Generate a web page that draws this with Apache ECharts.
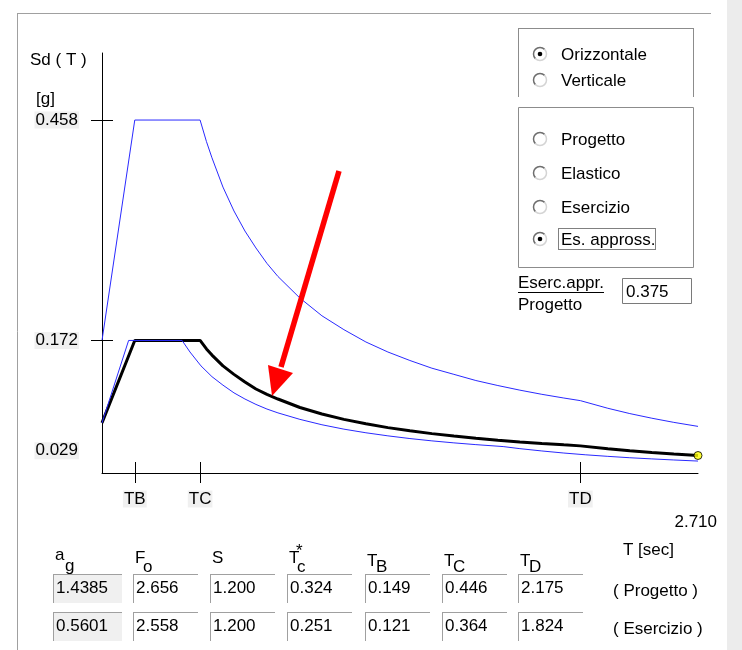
<!DOCTYPE html>
<html>
<head>
<meta charset="utf-8">
<script src="https://cdn.jsdelivr.net/npm/echarts@6/dist/echarts.min.js"></script>
<style>
  html, body { margin: 0; padding: 0; background: #ffffff; }
  #chart { width: 742px; height: 650px; }
</style>
</head>
<body>
<div id="chart"></div>
<script>
// Periods [s] and spectral ordinates Sd(T) [g]
const tProgetto = [0, 0.149, 0.446, 0.475, 0.5, 0.55, 0.6, 0.65, 0.7, 0.75, 0.8, 0.9, 1.0, 1.1, 1.2, 1.3, 1.4, 1.5, 1.6, 1.7, 1.8, 1.9, 2.0, 2.1, 2.175, 2.3, 2.4, 2.5, 2.6, 2.71];
const sdElastico = [0.172, 0.458, 0.458, 0.430, 0.409, 0.371, 0.340, 0.314, 0.292, 0.272, 0.255, 0.227, 0.204, 0.186, 0.170, 0.157, 0.146, 0.136, 0.128, 0.120, 0.1135, 0.1075, 0.1021, 0.0973, 0.0939, 0.0840, 0.0771, 0.0711, 0.0657, 0.0605];
const sdApprox   = [0.065, 0.172, 0.172, 0.161, 0.153, 0.139, 0.128, 0.118, 0.109, 0.102, 0.096, 0.085, 0.0766, 0.0696, 0.0638, 0.0589, 0.0547, 0.0511, 0.0479, 0.0451, 0.0426, 0.0403, 0.0383, 0.0365, 0.0352, 0.0315, 0.0289, 0.0267, 0.0246, 0.0227];

const tEsercizio = [0, 0.121, 0.364, 0.4, 0.45, 0.5, 0.55, 0.6, 0.65, 0.7, 0.75, 0.8, 0.9, 1.0, 1.1, 1.2, 1.3, 1.4, 1.5, 1.6, 1.7, 1.824, 1.9, 2.0, 2.1, 2.2, 2.3, 2.4, 2.5, 2.6, 2.71];
const sdEsercizio = [0.065, 0.172, 0.172, 0.157, 0.139, 0.125, 0.114, 0.104, 0.096, 0.089, 0.083, 0.078, 0.0696, 0.0626, 0.0569, 0.0522, 0.0482, 0.0447, 0.0417, 0.0391, 0.0368, 0.0343, 0.0316, 0.0286, 0.0259, 0.0236, 0.0216, 0.0198, 0.0183, 0.0169, 0.0155];

// Axis ticks and labels
const periodTicks = [0.149, 0.446, 2.175];
const periodTickLabels = ['TB', 'TC', 'TD'];
const sdTicks = [0.458, 0.172];
const sdLabels = [0.458, 0.172, 0.029];
const tMax = 2.71;

// Parameter table
const paramHeaders = ['a', 'F', 'S', 'T', 'T', 'T', 'T'];
const paramRowProgetto  = ['1.4385', '2.656', '1.200', '0.324', '0.149', '0.446', '2.175'];
const paramRowEsercizio = ['0.5601', '2.558', '1.200', '0.251', '0.121', '0.364', '1.824'];

const FONT = '17px "Liberation Sans", Arial, sans-serif';
const BLUE = '#2a2aff';

function txt(x, y, text, align, extra) {
  return {
    type: 'text', silent: true,
    style: Object.assign({ text: text, x: x, y: y, font: FONT, fill: '#000',
      textAlign: align || 'left', textVerticalAlign: 'middle' }, extra || {})
  };
}
function hline(x1, x2, y, color, extra) {
  return { type: 'line', silent: true, shape: { x1: x1, y1: y, x2: x2, y2: y },
    style: Object.assign({ stroke: color, lineWidth: 1 }, extra || {}) };
}
function vline(x, y1, y2, color) {
  return { type: 'line', silent: true, shape: { x1: x, y1: y1, x2: x, y2: y2 },
    style: { stroke: color, lineWidth: 1 } };
}
function radio(cx, cy, checked) {
  const els = [
    { type: 'circle', silent: true, shape: { cx: cx, cy: cy, r: 6.5 }, style: { fill: '#fff', stroke: null } },
    { type: 'arc', silent: true, shape: { cx: cx, cy: cy, r: 6.5, startAngle: 0.75 * Math.PI, endAngle: 1.75 * Math.PI, clockwise: true },
      style: { stroke: '#6e6e6e', lineWidth: 1.5, fill: null } },
    { type: 'arc', silent: true, shape: { cx: cx, cy: cy, r: 6.5, startAngle: -0.25 * Math.PI, endAngle: 0.75 * Math.PI, clockwise: true },
      style: { stroke: '#d4d4d4', lineWidth: 1.5, fill: null } }
  ];
  if (checked) {
    els.push({ type: 'circle', silent: true, shape: { cx: cx, cy: cy, r: 2.3 }, style: { fill: '#000' } });
  }
  return els;
}

const g = [];
// dialog frame and right strip
g.push({ type: 'rect', silent: true, shape: { x: 727, y: 0, width: 15, height: 650 }, style: { fill: '#ececec' } });
g.push(hline(17, 711, 13.5, '#a0a0a0'));
g.push(vline(17.5, 13, 650, '#a0a0a0'));

// axis captions
g.push(txt(30, 60, 'Sd ( T )'));
g.push(txt(36, 99, '[g]'));
g.push(txt(717, 522, '2.710', 'right'));

// component selector
g.push(hline(518, 694, 28.5, '#8c8c8c'));
g.push(vline(518.5, 28, 97, '#8c8c8c'));
g.push(vline(693.5, 28, 97, '#8c8c8c'));
g.push.apply(g, radio(540, 54, true));
g.push(txt(561, 55, 'Orizzontale'));
g.push.apply(g, radio(540, 80, false));
g.push(txt(561, 81, 'Verticale'));

// spectrum selector
g.push({ type: 'rect', silent: true, shape: { x: 518.5, y: 107.5, width: 175, height: 160 },
  style: { fill: null, stroke: '#8c8c8c', lineWidth: 1 } });
const choices = [['Progetto', 139, false], ['Elastico', 173, false], ['Esercizio', 207, false], ['Es. appross.', 239, true]];
choices.forEach(function (c) {
  g.push.apply(g, radio(540, c[1], c[2]));
  g.push(txt(561, c[1] + 1, c[0]));
});
g.push({ type: 'rect', silent: true, shape: { x: 558.5, y: 228.5, width: 97, height: 21 },
  style: { fill: null, stroke: '#000', lineWidth: 1, lineDash: [1, 1] } });

// ratio field
g.push(txt(518, 283, 'Eserc.appr.'));
g.push(hline(518, 604, 292.5, '#000'));
g.push(txt(518, 305, 'Progetto'));
g.push({ type: 'rect', silent: true, shape: { x: 622.5, y: 278.5, width: 69, height: 25 },
  style: { fill: '#fff', stroke: '#7a7a7a', lineWidth: 1 } });
g.push(txt(626, 292, '0.375'));

// parameter table
const colX = [53, 133, 210, 287, 365, 442, 518];
const subs = ['g', 'o', '', 'c', 'B', 'C', 'D'];
paramHeaders.forEach(function (h, i) {
  const x = colX[i] + 2;
  if (i === 0) {
    g.push(txt(x, 555, h));
    g.push(txt(x + 10, 566, subs[i]));
  } else if (i <= 3) {
    g.push(txt(x, 558, h));
    if (subs[i]) g.push(txt(x + 8, 567, subs[i]));
    if (i === 3) g.push(txt(x + 7, 551, '*'));
  } else {
    g.push(txt(x, 561, h));
    g.push(txt(x + 9, 567, subs[i]));
  }
});
g.push(txt(623, 550, 'T [sec]'));

[[paramRowProgetto, 574, 588, '( Progetto )', 591], [paramRowEsercizio, 612, 626, '( Esercizio )', 629]].forEach(function (row) {
  const vals = row[0], top = row[1], ty = row[2];
  vals.forEach(function (v, i) {
    const x = colX[i];
    const w = i === 0 ? 69 : 65;
    if (i === 0) {
      g.push({ type: 'rect', silent: true, shape: { x: x, y: top, width: w, height: 29 }, style: { fill: '#f0f0f0' } });
    }
    g.push(hline(x, x + w, top + 0.5, '#a0a0a0'));
    g.push(vline(x + 0.5, top, top + 29, '#a0a0a0'));
    g.push(txt(x + 3, ty, v));
  });
  g.push(txt(613, row[4], row[3]));
});

// pointer arrow
g.push({ type: 'line', silent: true, z: 100, shape: { x1: 339, y1: 171, x2: 281, y2: 367 },
  style: { stroke: '#ff0000', lineWidth: 5.5 } });
g.push({ type: 'polygon', silent: true, z: 100, shape: { points: [[272, 396], [268, 365], [293, 373]] },
  style: { fill: '#ff0000' } });

const chart = echarts.init(document.getElementById('chart'), null, { renderer: 'canvas' });
chart.setOption({
  animation: false,
  backgroundColor: '#ffffff',
  grid: { left: 102, top: 53, width: 596, height: 420 },
  xAxis: {
    type: 'value', min: 0, max: tMax,
    axisLine: { lineStyle: { color: '#000', width: 1 } },
    axisTick: { show: false }, axisLabel: { show: false }, splitLine: { show: false }
  },
  yAxis: {
    type: 'value', min: 0, max: 0.545,
    axisLine: { show: true, lineStyle: { color: '#000', width: 1 } },
    axisTick: { show: false }, axisLabel: { show: false }, splitLine: { show: false }
  },
  series: [
    {
      type: 'line', name: 'Elastico', data: tProgetto.map((t, i) => [t, sdElastico[i]]),
      symbol: 'none', lineStyle: { color: BLUE, width: 1 }, z: 3
    },
    {
      type: 'line', name: 'Es. appross.', data: tProgetto.map((t, i) => [t, sdApprox[i]]),
      symbol: 'none', lineStyle: { color: '#000', width: 3 }, z: 2
    },
    {
      type: 'line', name: 'Esercizio', data: tEsercizio.map((t, i) => [t, sdEsercizio[i]]),
      symbol: 'none', lineStyle: { color: BLUE, width: 1 }, z: 3
    },
    {
      type: 'scatter', data: [[tProgetto[tProgetto.length - 1], sdApprox[sdApprox.length - 1]]],
      symbol: 'circle', symbolSize: 8,
      itemStyle: { color: '#ffff00', borderColor: '#000', borderWidth: 1 }, z: 5
    },
    {
      // period ticks across the T axis
      type: 'custom', clip: false, silent: true, z: 4,
      data: periodTicks.map((t, i) => [t, 0, i]),
      renderItem: function (params, api) {
        const p = api.coord([api.value(0), 0]);
        const x = Math.round(p[0]) + 0.5;
        return {
          type: 'group', children: [
            { type: 'line', shape: { x1: x, y1: p[1] - 11, x2: x, y2: p[1] + 10 }, style: { stroke: '#000', lineWidth: 1 } },
            { type: 'text', style: { text: periodTickLabels[api.value(2)], x: p[0], y: p[1] + 26, font: FONT, fill: '#000',
              textAlign: 'center', textVerticalAlign: 'middle', backgroundColor: '#f0f0f0', padding: [0, 1] } }
          ]
        };
      }
    },
    {
      // Sd ticks across the vertical axis
      type: 'custom', clip: false, silent: true, z: 4,
      data: sdTicks.map(v => [0, v]),
      renderItem: function (params, api) {
        const p = api.coord([0, api.value(1)]);
        const y = Math.round(p[1]) + 0.5;
        return { type: 'line', shape: { x1: p[0] - 11, y1: y, x2: p[0] + 11, y2: y }, style: { stroke: '#000', lineWidth: 1 } };
      }
    },
    {
      // Sd labels
      type: 'custom', clip: false, silent: true, z: 4,
      data: sdLabels.map(v => [0, v]),
      renderItem: function (params, api) {
        const p = api.coord([0, api.value(1)]);
        return { type: 'text', style: { text: api.value(1).toFixed(3), x: p[0] - 23, y: p[1], font: FONT, fill: '#000',
          textAlign: 'right', textVerticalAlign: 'middle', backgroundColor: '#f0f0f0', padding: [0, 1] } };
      }
    }
  ],
  graphic: { elements: g }
});
</script>
</body>
</html>
